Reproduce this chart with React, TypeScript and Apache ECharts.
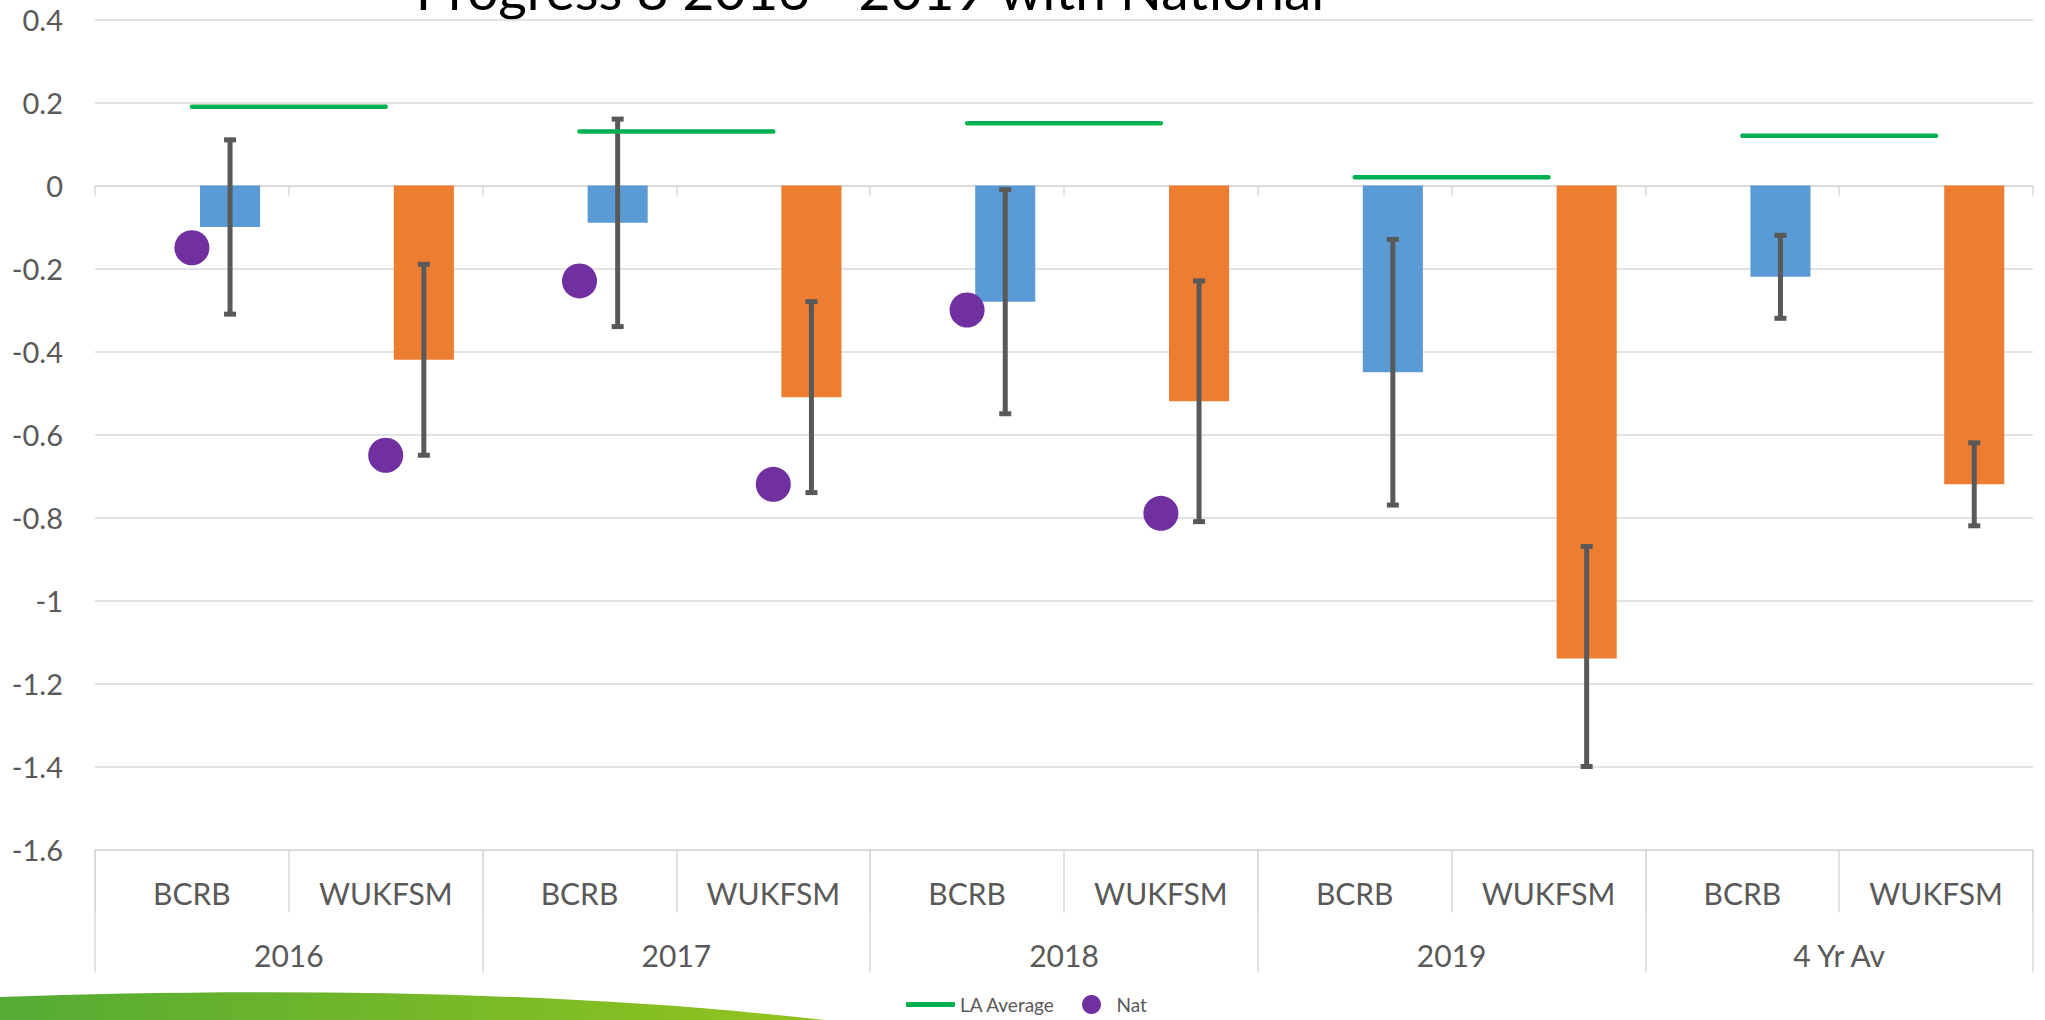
import React, { useEffect, useRef } from 'react';
import * as echarts from 'echarts';

// ---- Data ----
const subCategories = ['BCRB', 'WUKFSM', 'BCRB', 'WUKFSM', 'BCRB', 'WUKFSM', 'BCRB', 'WUKFSM', 'BCRB', 'WUKFSM'];
const years = ['2016', '2017', '2018', '2019', '4 Yr Av'];
const barValues = [-0.10, -0.42, -0.09, -0.51, -0.28, -0.52, -0.45, -1.14, -0.22, -0.72];
const errorHigh = [0.11, -0.19, 0.16, -0.28, -0.01, -0.23, -0.13, -0.87, -0.12, -0.62];
const errorLow = [-0.31, -0.65, -0.34, -0.74, -0.55, -0.81, -0.77, -1.40, -0.32, -0.82];
const laAverage = [0.19, 0.13, 0.15, 0.02, 0.12];
const nationalValues: (number | null)[] = [-0.15, -0.65, -0.23, -0.72, -0.30, -0.79, null, null, null, null];

const TITLE = 'Progress 8 2016 - 2019 with National';
const BAR_COLORS = ['#5B9BD5', '#ED7D31'];
const TEXT = '#595959';
const GRID = '#D9D9D9';
const FONT = 'Lato, "Open Sans", sans-serif';
const BAR_W = 0.31;
const BAR_GAP = 0.27;
const BAR_OFFSET = (BAR_W * (1 + BAR_GAP)) / 2;

function laSeriesData(parity: number) {
  const out: (number | string)[] = [];
  laAverage.forEach((v, i) => {
    const val = i % 2 === parity ? v : '-';
    out.push(val, val);
  });
  return out;
}

echarts.graphic.registerShape(
  'swoosh',
  echarts.graphic.extendPath('M0,9 C260,0 560,2 825,32 L0,32 Z', {})
);

export default function App() {
  const ref = useRef<HTMLDivElement>(null);
  useEffect(() => {
    if (!ref.current) return;
    const chart = echarts.init(ref.current, null, { renderer: 'svg' });
    const lineStyle = { color: GRID, width: 1.5 };
    const laSeries = [0, 1].map((p) => ({
      type: 'line',
      name: 'LA Average',
      data: laSeriesData(p),
      symbol: 'none',
      connectNulls: false,
      color: '#00B050',
      lineStyle: { color: '#00B050', width: 4.5, cap: 'round' },
      z: 4,
    }));
    chart.setOption({
      animation: false,
      backgroundColor: '#ffffff',
      grid: { left: 95, right: 12, top: 19.5, bottom: 170.5, containLabel: false, outerBoundsMode: 'none' },
      graphic: [
        {
          type: 'text',
          x: 870,
          y: -11,
          style: {
            text: TITLE,
            fontSize: 55,
            fontFamily: FONT,
            fontWeight: 'normal',
            fill: '#000000',
            align: 'center',
            verticalAlign: 'middle',
          },
        },
        {
          type: 'swoosh',
          x: 0,
          y: 988,
          silent: true,
          style: {
            fill: {
              type: 'linear', x: 0, y: 0, x2: 1, y2: 0,
              colorStops: [
                { offset: 0, color: '#55AB34' },
                { offset: 1, color: '#93C41E' },
              ],
            },
          },
        },
      ],
      legend: [
        {
          data: [{ name: 'LA Average', icon: 'roundRect' }],
          left: 906,
          top: 995,
          padding: 0,
          itemWidth: 49,
          itemHeight: 5,
          selectedMode: false,
          textStyle: { fontSize: 19, color: TEXT, fontFamily: FONT },
        },
        {
          data: [{ name: 'Nat', icon: 'circle' }],
          left: 1082,
          top: 995,
          padding: 0,
          itemWidth: 40,
          itemHeight: 19,
          selectedMode: false,
          textStyle: { fontSize: 19, color: TEXT, fontFamily: FONT },
        },
      ],
      xAxis: [
        {
          type: 'category',
          data: subCategories,
          position: 'bottom',
          axisLine: { onZero: true, lineStyle },
          axisTick: { show: true, length: 10, interval: 0, lineStyle },
          axisLabel: { show: false },
          splitLine: { show: false },
        },
        {
          type: 'category',
          data: subCategories,
          position: 'bottom',
          axisLine: { show: true, onZero: false, lineStyle },
          axisTick: { show: true, length: 63, interval: 0, lineStyle },
          axisLabel: { interval: 0, margin: 28, fontSize: 30, color: TEXT, fontFamily: FONT },
          splitLine: { show: false },
        },
        {
          type: 'category',
          data: years,
          position: 'bottom',
          axisLine: { show: false, onZero: false },
          axisTick: { show: true, length: 123, interval: 0, lineStyle },
          axisLabel: { interval: 0, margin: 90, fontSize: 30, color: TEXT, fontFamily: FONT },
          splitLine: { show: false },
        },
      ],
      yAxis: {
        type: 'value',
        min: -1.6,
        max: 0.4,
        interval: 0.2,
        axisLine: { show: false },
        axisTick: { show: false },
        splitLine: { lineStyle },
        axisLabel: {
          fontSize: 29,
          color: TEXT,
          fontFamily: FONT,
          margin: 32,
          formatter: (v: number) => String(Math.round(v * 10) / 10),
        },
      },
      series: [
        {
          type: 'bar',
          name: '_gap',
          data: subCategories.map(() => '-'),
          barWidth: `${BAR_W * 100}%`,
          barGap: `${BAR_GAP * 100}%`,
          silent: true,
        },
        {
          type: 'bar',
          name: 'Progress 8',
          data: barValues.map((v, i) => ({ value: v, itemStyle: { color: BAR_COLORS[i % 2] } })),
          barWidth: `${BAR_W * 100}%`,
          barGap: `${BAR_GAP * 100}%`,
          z: 2,
        },
        {
          type: 'custom',
          name: 'Error',
          data: barValues.map((_, i) => [i, errorLow[i], errorHigh[i]]),
          encode: { x: 0, y: [1, 2] },
          z: 3,
          renderItem: (params: any, api: any) => {
            const i = api.value(0);
            const lo = api.coord([i, api.value(1)]);
            const hi = api.coord([i, api.value(2)]);
            const band = api.size([1, 0])[0];
            const x = lo[0] + band * BAR_OFFSET;
            const cap = 6;
            const style = { stroke: '#595959', lineWidth: 5 };
            return {
              type: 'group',
              children: [
                { type: 'line', shape: { x1: x, y1: hi[1], x2: x, y2: lo[1] }, style },
                { type: 'line', shape: { x1: x - cap, y1: hi[1], x2: x + cap, y2: hi[1] }, style },
                { type: 'line', shape: { x1: x - cap, y1: lo[1], x2: x + cap, y2: lo[1] }, style },
              ],
            };
          },
        },
        ...laSeries,
        {
          type: 'scatter',
          name: 'Nat',
          data: nationalValues.map((v) => (v === null ? '-' : v)),
          symbol: 'circle',
          symbolSize: 35,
          itemStyle: { color: '#7030A0', opacity: 1 },
          z: 5,
        },
      ],
    } as any);
    return () => chart.dispose();
  }, []);
  return (
    <div
      ref={ref}
      style={{ position: 'absolute', left: 0, top: 0, width: 2045, height: 1020, background: '#ffffff' }}
    />
  );
}
